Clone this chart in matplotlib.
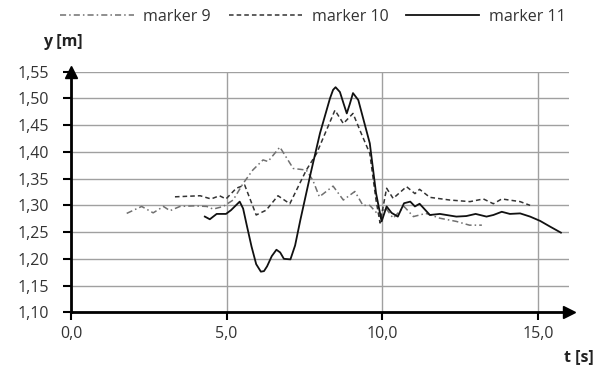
import matplotlib
matplotlib.use('Agg')
import matplotlib.pyplot as plt
from matplotlib.ticker import FuncFormatter

# marker 9 (dash-dot)
t9 = [1.79, 2.27, 2.64, 2.97, 3.18, 3.50, 3.93, 4.36, 4.57, 4.89, 5.21, 5.53, 5.84,
      6.17, 6.33, 6.71, 7.14, 7.56, 7.77, 7.98, 8.42, 8.75, 9.12, 9.38, 9.60, 9.93,
      10.10, 10.35, 10.70, 11.00, 11.40, 11.85, 12.38, 12.80, 13.20]
y9 = [1.285, 1.298, 1.286, 1.298, 1.290, 1.298, 1.299, 1.298, 1.293, 1.298, 1.310,
      1.341, 1.366, 1.385, 1.382, 1.409, 1.369, 1.366, 1.347, 1.316, 1.336, 1.310,
      1.326, 1.300, 1.300, 1.279, 1.296, 1.276, 1.298, 1.279, 1.285, 1.276, 1.270,
      1.263, 1.263]

# marker 10 (dashed)
t10 = [3.34, 4.15, 4.50, 4.77, 4.98, 5.31, 5.58, 5.95, 6.27, 6.65, 7.03, 7.56, 7.89,
       8.32, 8.48, 8.75, 9.06, 9.30, 9.60, 9.80, 9.93, 10.14, 10.35, 10.78, 11.05,
       11.20, 11.53, 12.17, 12.82, 13.25, 13.57, 13.84, 14.43, 14.75]
y10 = [1.316, 1.318, 1.312, 1.318, 1.312, 1.332, 1.338, 1.282, 1.291, 1.318, 1.303,
       1.366, 1.397, 1.456, 1.478, 1.453, 1.472, 1.438, 1.397, 1.310, 1.267, 1.332,
       1.313, 1.335, 1.322, 1.330, 1.315, 1.310, 1.307, 1.312, 1.303, 1.312, 1.307,
       1.300]

# marker 11 (solid)
t11 = [4.30, 4.46, 4.68, 4.98, 5.14, 5.42, 5.53, 5.65, 5.80, 5.95, 6.10, 6.20, 6.30,
       6.45, 6.60, 6.72, 6.84, 7.05, 7.20, 7.37, 7.70, 8.00, 8.32, 8.42, 8.50, 8.64,
       8.76, 8.86, 8.96, 9.06, 9.23, 9.60, 9.80, 9.98, 10.14, 10.30, 10.50, 10.70,
       10.90, 11.05, 11.20, 11.53, 11.85, 12.38, 12.70, 13.00, 13.35, 13.57, 13.84,
       14.10, 14.43, 14.75, 15.07, 15.40, 15.74]
y11 = [1.279, 1.274, 1.284, 1.284, 1.291, 1.307, 1.294, 1.262, 1.223, 1.190, 1.176,
       1.177, 1.186, 1.205, 1.217, 1.212, 1.200, 1.199, 1.225, 1.273, 1.360, 1.435,
       1.500, 1.516, 1.521, 1.512, 1.490, 1.472, 1.490, 1.510, 1.497, 1.416, 1.323,
       1.270, 1.298, 1.286, 1.279, 1.304, 1.307, 1.298, 1.303, 1.282, 1.284, 1.279,
       1.280, 1.284, 1.279, 1.282, 1.288, 1.284, 1.285, 1.279, 1.271, 1.260, 1.249]

x_ticks = [0, 5, 10, 15]
y_ticks = [1.10, 1.15, 1.20, 1.25, 1.30, 1.35, 1.40, 1.45, 1.50, 1.55]

plt.rcParams['font.family'] = ['Open Sans', 'DejaVu Sans']
plt.rcParams['font.size'] = 11.5

fig = plt.figure(figsize=(6.03, 3.71), dpi=100)
ax = fig.add_axes([71 / 603, 1 - 312.3 / 371, 498 / 603, 240.6 / 371])

ax.plot(t9, y9, color='#707070', lw=1.1, linestyle=(0, (4, 2, 1, 2)), label='marker 9')
ax.plot(t10, y10, color='#333333', lw=1.1, linestyle=(0, (3, 2)), label='marker 10')
ax.plot(t11, y11, color='#111111', lw=1.3, label='marker 11')

ax.set_xlim(0, 16.0)
ax.set_ylim(1.10, 1.55)
ax.set_xticks(x_ticks)
ax.set_yticks(y_ticks)
ax.xaxis.set_major_formatter(FuncFormatter(lambda v, p: f'{v:.1f}'.replace('.', ',')))
ax.yaxis.set_major_formatter(FuncFormatter(lambda v, p: f'{v:.2f}'.replace('.', ',')))
ax.grid(True, color='#a0a0a0', lw=1.0)
ax.set_axisbelow(True)
for s in ['top', 'right']:
    ax.spines[s].set_visible(False)
for s in ['left', 'bottom']:
    ax.spines[s].set_linewidth(2.0)
    ax.spines[s].set_color('black')
ax.tick_params(direction='out', length=6, width=1.5, colors='black', labelsize=11.5,
               labelcolor='#333333')
ax.tick_params(axis='y', pad=10)
ax.tick_params(axis='x', pad=4)

# axis arrows
ax.plot(1, 0, '>', color='black', markersize=8, transform=ax.transAxes, clip_on=False)
ax.plot(0, 1, '^', color='black', markersize=8, transform=ax.transAxes, clip_on=False)

fig.text(43 / 603, 1 - 42 / 371, 'y [m]', fontsize=11.5, fontweight='bold',
         color='#222222', va='center', ha='left')
fig.text(594 / 603, 1 - 357 / 371, 't [s]', fontsize=11.5, fontweight='bold',
         color='#222222', va='center', ha='right')

fig.legend(loc='center', bbox_to_anchor=(313 / 603, 1 - 17 / 371), ncol=3, frameon=False,
           handlelength=4.6, columnspacing=1.1, handletextpad=0.6, fontsize=11.5,
           labelcolor='#333333', borderpad=0, borderaxespad=0)

fig.savefig('out.png', dpi=100)
